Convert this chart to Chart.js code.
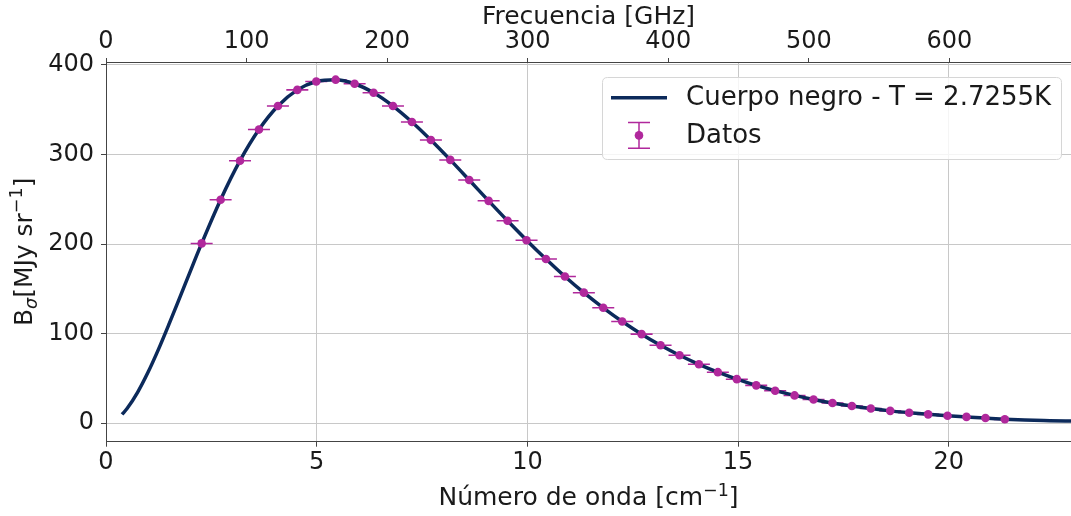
<!DOCTYPE html>
<html><head><meta charset="utf-8">
<script src="https://cdn.jsdelivr.net/npm/chart.js@4"></script>
<style>html,body{margin:0;padding:0;background:#fff;}#wrap{width:1071px;height:516px;}</style>
</head><body><div id="wrap"><canvas id="c" width="1071" height="516"></canvas></div>
<script>
// ---- data (FIRAS-like CMB spectrum) ----
const wavenumber = [2.27, 2.72, 3.18, 3.63, 4.08, 4.54, 4.99, 5.45, 5.90, 6.35, 6.81, 7.26, 7.71, 8.17, 8.62, 9.08, 9.53, 9.98, 10.44, 10.89, 11.34, 11.80, 12.25, 12.71, 13.16, 13.61, 14.07, 14.52, 14.97, 15.43, 15.88, 16.34, 16.79, 17.24, 17.70, 18.15, 18.61, 19.06, 19.51, 19.97, 20.42, 20.87, 21.33];
const intensity = [200.72, 249.51, 293.02, 327.77, 354.08, 372.08, 381.49, 383.48, 378.90, 368.83, 354.06, 336.28, 316.08, 293.92, 271.43, 248.24, 225.94, 204.33, 183.26, 163.83, 145.75, 128.84, 113.57, 99.45, 87.04, 75.88, 65.77, 57.01, 49.22, 42.27, 36.35, 31.06, 26.58, 22.64, 19.26, 16.39, 13.81, 11.72, 9.92, 8.36, 7.09, 5.80, 4.52];
const uncertainty = [0.014, 0.019, 0.025, 0.023, 0.022, 0.021, 0.018, 0.018, 0.016, 0.014, 0.013, 0.012, 0.011, 0.010, 0.011, 0.012, 0.014, 0.016, 0.018, 0.022, 0.022, 0.023, 0.023, 0.023, 0.022, 0.021, 0.020, 0.019, 0.019, 0.019, 0.021, 0.023, 0.026, 0.028, 0.030, 0.032, 0.033, 0.035, 0.041, 0.055, 0.088, 0.155, 0.282];
const curveWavenumber = [0.38, 0.5, 0.75, 1.0, 1.25, 1.5, 1.75, 2.0, 2.27, 2.72, 3.18, 3.63, 4.08, 4.54, 4.99, 5.45, 5.90, 6.35, 6.81, 7.26, 7.71, 8.17, 8.62, 9.08, 9.53, 9.98, 10.44, 10.89, 11.34, 11.80, 12.25, 12.71, 13.16, 13.61, 14.07, 14.52, 14.97, 15.43, 15.88, 16.34, 16.79, 17.24, 17.70, 18.15, 18.61, 19.06, 19.51, 19.97, 20.42, 20.87, 21.33, 21.8, 22.4, 23.0];
const curveIntensity = [9.8, 16.4, 34.5, 57.1, 83.0, 111.1, 140.2, 169.6, 200.72, 249.51, 293.02, 327.77, 354.08, 372.08, 381.49, 383.48, 378.90, 368.83, 354.06, 336.28, 316.08, 293.92, 271.43, 248.24, 225.94, 204.33, 183.26, 163.83, 145.75, 128.84, 113.57, 99.45, 87.04, 75.88, 65.77, 57.01, 49.22, 42.27, 36.35, 31.06, 26.58, 22.64, 19.26, 16.39, 13.81, 11.72, 9.92, 8.36, 7.09, 5.80, 4.52, 3.6, 2.9, 2.3];
const bottomTicks = [0, 5, 10, 15, 20];
const topTicks = [0, 100, 200, 300, 400, 500, 600];
const yTicks = [0, 100, 200, 300, 400];
const seriesLabels = ['Cuerpo negro - T = 2.7255K', 'Datos'];
const GHZ_PER_CM = 29.9792458;

// ---- styles ----
const FONT = 'DejaVu Sans';
const NAVY = '#0c2a5b';
const MAGENTA = '#b0289c';
const SPINE = '#444444';
const GRID = '#c8c8c8';
const TEXT = '#1a1a1a';
const XMIN = 0, XMAX = 22.9, YMIN = -20.6, YMAX = 403.2;

function richText(ctx, segs, size, cx, baseY, rotate) {
  let total = 0;
  const parts = segs.map(s => {
    const fs = s.m === 'n' ? size : size * 0.7;
    const font = (s.i ? 'italic ' : '') + fs + 'px "' + FONT + '"';
    ctx.font = font;
    const w = ctx.measureText(s.t).width;
    total += w;
    return { t: s.t, m: s.m, font: font, w: w };
  });
  ctx.save();
  ctx.translate(cx, baseY);
  if (rotate) ctx.rotate(-Math.PI / 2);
  ctx.textAlign = 'left';
  ctx.textBaseline = 'alphabetic';
  ctx.fillStyle = TEXT;
  let x = -total / 2;
  for (const p of parts) {
    ctx.font = p.font;
    const dy = p.m === 'sub' ? size * 0.2 : (p.m === 'sup' ? -size * 0.38 : 0);
    ctx.fillText(p.t, x, dy);
    x += p.w;
  }
  ctx.restore();
}

function drawErrBar(ctx, x, yTop, yBot, yMid, half, dot) {
  ctx.beginPath();
  ctx.moveTo(x, yTop); ctx.lineTo(x, yBot);
  ctx.moveTo(x - half, yTop); ctx.lineTo(x + half, yTop);
  ctx.moveTo(x - half, yBot); ctx.lineTo(x + half, yBot);
  ctx.stroke();
  if (dot) {
    ctx.beginPath(); ctx.arc(x, yMid, 4.3, 0, Math.PI * 2); ctx.fill();
  }
}

const errorBarPlugin = {
  id: 'errorBars',
  beforeDatasetsDraw(chart) {
    const { ctx, chartArea: a } = chart;
    const xs = chart.scales.x, ys = chart.scales.y;
    ctx.save();
    ctx.beginPath(); ctx.rect(a.left, a.top, a.right - a.left, a.bottom - a.top); ctx.clip();
    ctx.strokeStyle = MAGENTA; ctx.lineWidth = 1.5;
    for (let i = 0; i < wavenumber.length; i++) {
      const x = xs.getPixelForValue(wavenumber[i]);
      const yT = ys.getPixelForValue(intensity[i] + uncertainty[i]);
      const yB = ys.getPixelForValue(intensity[i] - uncertainty[i]);
      drawErrBar(ctx, x, yT, yB, 0, 11, false);
    }
    ctx.restore();
  }
};

const decorPlugin = {
  id: 'decor',
  afterDraw(chart) {
    const { ctx, chartArea: a } = chart;
    // legend
    ctx.save();
    const lx = 602.5, ly = 77.5, lw = 459, lh = 82, r = 5;
    ctx.beginPath();
    ctx.moveTo(lx + r, ly); ctx.lineTo(lx + lw - r, ly); ctx.quadraticCurveTo(lx + lw, ly, lx + lw, ly + r);
    ctx.lineTo(lx + lw, ly + lh - r); ctx.quadraticCurveTo(lx + lw, ly + lh, lx + lw - r, ly + lh);
    ctx.lineTo(lx + r, ly + lh); ctx.quadraticCurveTo(lx, ly + lh, lx, ly + lh - r);
    ctx.lineTo(lx, ly + r); ctx.quadraticCurveTo(lx, ly, lx + r, ly);
    ctx.closePath();
    ctx.fillStyle = 'rgba(255,255,255,0.82)'; ctx.fill();
    ctx.strokeStyle = '#d6d6d6'; ctx.lineWidth = 1; ctx.stroke();
    ctx.strokeStyle = NAVY; ctx.lineWidth = 3.5;
    ctx.beginPath(); ctx.moveTo(611, 97.7); ctx.lineTo(667, 97.7); ctx.stroke();
    ctx.strokeStyle = MAGENTA; ctx.fillStyle = MAGENTA; ctx.lineWidth = 1.5;
    drawErrBar(ctx, 639, 122.5, 148.3, 135.4, 11, true);
    ctx.fillStyle = TEXT; ctx.font = '26px "' + FONT + '"';
    ctx.textAlign = 'left'; ctx.textBaseline = 'middle';
    ctx.fillText(seriesLabels[0], 686, 98.5);
    ctx.fillText(seriesLabels[1], 686, 136);
    ctx.restore();
    // axis titles
    const cx = (a.left + a.right) / 2;
    richText(ctx, [{ t: 'Frecuencia [GHz]', m: 'n' }], 25, cx, 24, false);
    richText(ctx, [{ t: 'Número de onda [cm', m: 'n' }, { t: '\u22121', m: 'sup' }, { t: ']', m: 'n' }], 25, cx, 505, false);
    richText(ctx, [{ t: 'B', m: 'n' }, { t: 'σ', m: 'sub', i: true }, { t: '[MJy sr', m: 'n' }, { t: '\u22121', m: 'sup' }, { t: ']', m: 'n' }], 25, 31.5, (a.top + a.bottom) / 2, true);
  }
};

const tickFont = { family: FONT, size: 24 };
function noPad(s) { s.paddingLeft = 0; s.paddingRight = 0; s.paddingTop = 0; s.paddingBottom = 0; }

new Chart(document.getElementById('c'), {
  type: 'scatter',
  data: {
    datasets: [
      {
        label: seriesLabels[1],
        data: wavenumber.map((x, i) => ({ x: x, y: intensity[i] })),
        showLine: false,
        pointRadius: 4.3,
        pointBackgroundColor: MAGENTA,
        pointBorderColor: MAGENTA,
        pointBorderWidth: 0,
        order: 0
      },
      {
        label: seriesLabels[0],
        data: curveWavenumber.map((x, i) => ({ x: x, y: curveIntensity[i] })),
        showLine: true,
        borderColor: NAVY,
        borderWidth: 3.5,
        pointRadius: 0,
        cubicInterpolationMode: 'monotone',
        order: 1
      }
    ]
  },
  options: {
    responsive: false,
    animation: false,
    devicePixelRatio: 1,
    layout: { padding: 0, autoPadding: false },
    plugins: { legend: { display: false }, tooltip: { enabled: false } },
    scales: {
      x: {
        type: 'linear', position: 'bottom', min: XMIN, max: XMAX,
        afterBuildTicks: s => { s.ticks = bottomTicks.map(v => ({ value: v })); },
        afterFit: s => { s.height = 74.3; noPad(s); },
        ticks: { font: tickFont, color: TEXT, padding: 2, maxRotation: 0, autoSkip: false, callback: v => String(v) },
        grid: { color: GRID, lineWidth: 1, tickColor: SPINE, tickLength: 5, drawOnChartArea: true },
        border: { color: SPINE, width: 1 }
      },
      x2: {
        type: 'linear', position: 'top', min: XMIN * GHZ_PER_CM, max: XMAX * GHZ_PER_CM,
        afterBuildTicks: s => { s.ticks = topTicks.map(v => ({ value: v })); },
        afterFit: s => { s.height = 62; noPad(s); },
        ticks: { font: tickFont, color: TEXT, padding: 2, maxRotation: 0, autoSkip: false, callback: v => String(v) },
        grid: { drawOnChartArea: false, tickColor: SPINE, tickLength: 4 },
        border: { color: SPINE, width: 1 }
      },
      y: {
        type: 'linear', position: 'left', min: YMIN, max: YMAX,
        afterBuildTicks: s => { s.ticks = yTicks.map(v => ({ value: v })); },
        afterFit: s => { s.width = 106; noPad(s); },
        ticks: { font: tickFont, color: TEXT, padding: 7, autoSkip: false, callback: v => String(v) },
        grid: { color: GRID, lineWidth: 1, tickColor: SPINE, tickLength: 5 },
        border: { color: SPINE, width: 1 }
      }
    }
  },
  plugins: [errorBarPlugin, decorPlugin]
});
</script>
</body></html>
